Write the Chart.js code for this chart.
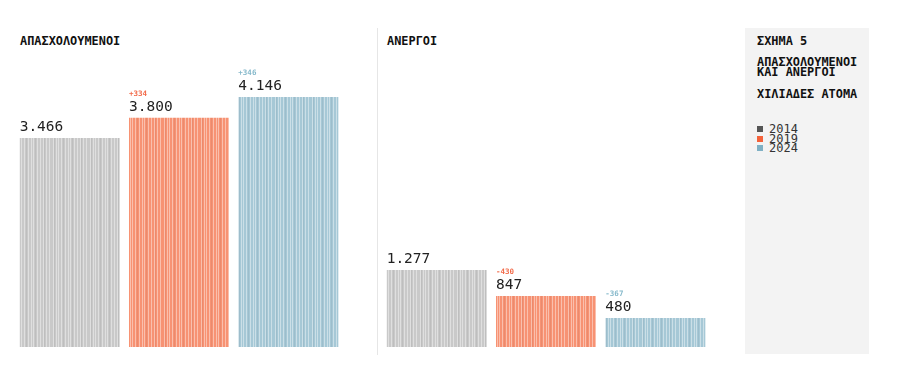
<!DOCTYPE html>
<html>
<head>
<meta charset="utf-8">
<script src="https://cdn.jsdelivr.net/npm/chart.js@4/dist/chart.umd.min.js"></script>
<style>
  html, body { margin:0; padding:0; background:#fff; }
  body { width:900px; height:382px; position:relative; overflow:hidden; font-family:"DejaVu Sans Mono", monospace; }
  .t { position:absolute; font-weight:bold; font-size:11.9px; color:#111; white-space:nowrap; line-height:1; }
  #divider { position:absolute; left:377px; top:28px; width:1px; height:327px; background:#e6e6e6; }
  #side { position:absolute; left:745px; top:28px; width:124px; height:326px; background:#f3f3f3; }
  canvas { position:absolute; }
  .lg { position:absolute; left:757px; font-size:12px; color:#333; line-height:1; white-space:nowrap; }
  .sw { display:inline-block; width:6px; height:6px; margin-right:6px; vertical-align:1px; }
</style>
</head>
<body>
<div id="side"></div>
<div id="divider"></div>
<div class="t" style="left:20px;top:36px;">ΑΠΑΣΧΟΛΟΥΜΕΝΟΙ</div>
<div class="t" style="left:387px;top:36px;">ΑΝΕΡΓΟΙ</div>
<div class="t" style="left:757px;top:36px;">ΣΧΗΜΑ 5</div>
<div class="t" style="left:757px;top:58px;line-height:9.5px;">ΑΠΑΣΧΟΛΟΥΜΕΝΟΙ<br>ΚΑΙ ΑΝΕΡΓΟΙ</div>
<div class="t" style="left:757px;top:89px;">ΧΙΛΙΑΔΕΣ ΑΤΟΜΑ</div>
<div id="legend"></div>
<canvas id="c1" width="328" height="300" style="left:15px;top:47px;"></canvas>
<canvas id="c2" width="328" height="300" style="left:382px;top:47px;"></canvas>
<script>
// ---- data ----
const years = ['2014', '2019', '2024'];
const employed = [3466, 3800, 4146];
const unemployed = [1277, 847, 480];
const employedChange = ['', '+334', '+346'];
const unemployedChange = ['', '-430', '-367'];

// ---- styles ----
const barColors = ['#c9c9c9', '#f79273', '#a6c8d6'];
const changeColors = ['#888888', '#f26b4a', '#86b9cb'];
const legendColors = ['#555555', '#f4623a', '#7fb0c4'];
const Y_MAX = 4975;

function fmt(v) {
  const s = String(v);
  return s.replace(/\B(?=(\d{3})+(?!\d))/g, '.');
}

function stripePattern(base) {
  const c = document.createElement('canvas');
  c.width = 37; c.height = 4;
  const g = c.getContext('2d');
  g.fillStyle = base; g.fillRect(0, 0, c.width, c.height);
  const light = [1, 4, 6, 9, 13, 16, 18, 22, 25, 28, 31, 34];
  const dark = [2, 11, 20, 29];
  g.fillStyle = 'rgba(255,255,255,0.42)';
  light.forEach(x => g.fillRect(x, 0, 1, c.height));
  g.fillStyle = 'rgba(0,0,0,0.05)';
  dark.forEach(x => g.fillRect(x, 0, 1, c.height));
  return g.createPattern(c, 'repeat');
}

const labelPlugin = {
  id: 'barLabels',
  afterDatasetsDraw(chart, args, opts) {
    const ctx = chart.ctx;
    const meta = chart.getDatasetMeta(0);
    const ds = chart.data.datasets[0];
    ctx.save();
    ctx.textAlign = 'left';
    ctx.textBaseline = 'alphabetic';
    meta.data.forEach((bar, i) => {
      const left = bar.x - bar.width / 2;
      const vy = bar.y - 7;
      ctx.fillStyle = '#222';
      ctx.font = '14.5px "DejaVu Sans Mono", monospace';
      ctx.fillText(fmt(ds.data[i]), left, vy);
      const ch = opts.changes[i];
      if (ch) {
        ctx.fillStyle = changeColors[i];
        ctx.font = 'bold 7.5px "DejaVu Sans Mono", monospace';
        ctx.fillText(ch, left, vy - 15);
      }
    });
    ctx.restore();
  }
};

function makeChart(id, values, changes) {
  return new Chart(document.getElementById(id), {
    type: 'bar',
    data: {
      labels: years,
      datasets: [{
        data: values,
        backgroundColor: barColors.map(stripePattern),
        borderWidth: 0,
        barPercentage: 100 / 109.33,
        categoryPercentage: 1
      }]
    },
    options: {
      responsive: false,
      animation: false,
      devicePixelRatio: 1,
      layout: { padding: 0 },
      plugins: { legend: { display: false }, tooltip: { enabled: false }, barLabels: { changes } },
      scales: {
        x: { display: false },
        y: { display: false, min: 0, max: Y_MAX }
      }
    },
    plugins: [labelPlugin]
  });
}

makeChart('c1', employed, employedChange);
makeChart('c2', unemployed, unemployedChange);

// legend
const lg = document.getElementById('legend');
years.forEach((y, i) => {
  const d = document.createElement('div');
  d.className = 'lg';
  d.style.top = (123 + i * 9.6) + 'px';
  d.innerHTML = '<span class="sw" style="background:' + legendColors[i] + '"></span>' + y;
  lg.appendChild(d);
});
</script>
</body>
</html>
